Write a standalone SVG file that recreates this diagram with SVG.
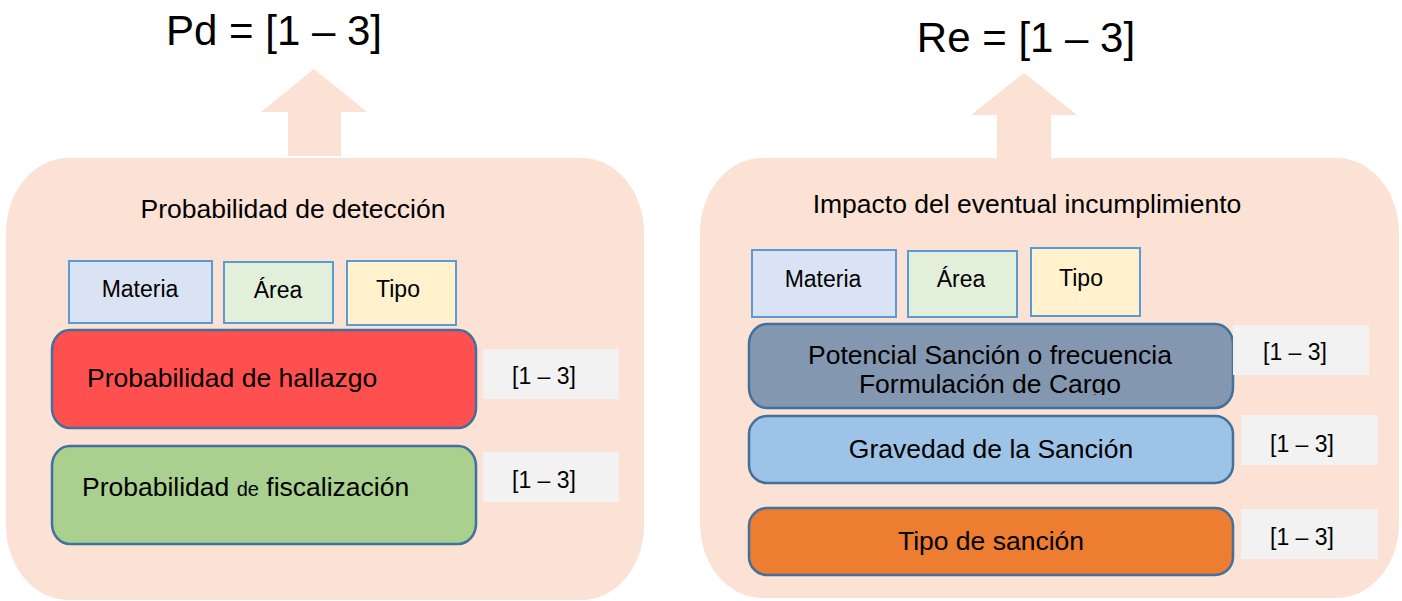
<svg xmlns="http://www.w3.org/2000/svg" width="1402" height="601" viewBox="0 0 1402 601">
<defs>
<style>
.panel{fill:#FBE2D5;}
.arrow{fill:#FBE2D5;}
.title{font-family:"Liberation Sans",Arial,sans-serif;font-size:42px;fill:#000;text-anchor:middle;}
.head{font-family:"Liberation Sans",Arial,sans-serif;font-size:26.5px;fill:#000;text-anchor:middle;}
.lbl{font-family:"Liberation Sans",Arial,sans-serif;font-size:26.5px;fill:#000;}
.small{font-family:"Liberation Sans",Arial,sans-serif;font-size:23px;fill:#000;text-anchor:middle;}
.tag{fill:#F2F2F2;}
.tagt{font-family:"Liberation Sans",Arial,sans-serif;font-size:23px;fill:#000;text-anchor:middle;}
.sbox{stroke:#5B9BD5;stroke-width:2;}
.bbox{stroke:#41719C;stroke-width:2.5;}
</style>
<clipPath id="clipPot"><rect x="740" y="320" width="500" height="75"/></clipPath>
</defs>

<g id="connectors">
<polygon class="arrow" points="314,69 367,112 341,112 341,156 288,156 288,112 261,112"/>
<polygon class="arrow" points="1024,73 1077,115 1051,115 1051,159 997,159 997,115 971,115"/>
</g>

<g id="title-pd"><text class="title" x="274" y="45">Pd = [1 – 3]</text></g>
<g id="title-re"><text class="title" x="1026" y="52">Re = [1 – 3]</text></g>

<g id="panel-left">
<rect class="panel" x="6" y="158" width="638" height="442" rx="62" ry="75"/>
<text class="head" x="293" y="218">Probabilidad de detección</text>
</g>

<g id="panel-right">
<rect class="panel" x="700" y="158" width="699" height="440" rx="62" ry="75"/>
<text class="head" x="1027" y="213">Impacto del eventual incumplimiento</text>
</g>

<g id="l-materia">
<rect class="sbox" x="69" y="261" width="143" height="62" fill="#DAE3F3"/>
<text class="small" x="140" y="297">Materia</text>
</g>
<g id="l-area">
<rect class="sbox" x="224" y="262" width="109" height="61" fill="#E2EFDA"/>
<text class="small" x="278" y="298">Área</text>
</g>
<g id="l-tipo">
<rect class="sbox" x="347" y="261" width="109" height="64" fill="#FFF2CC"/>
<text class="small" x="398" y="297">Tipo</text>
</g>

<g id="l-hallazgo">
<rect class="bbox" x="52" y="330" width="424" height="98" rx="18" ry="20" fill="#FF5050"/>
<text class="lbl" x="87" y="387">Probabilidad de hallazgo</text>
</g>
<g id="l-hallazgo-val">
<rect class="tag" x="483" y="349" width="136" height="50"/>
<text class="tagt" x="544" y="384">[1 – 3]</text>
</g>

<g id="l-fiscalizacion">
<rect class="bbox" x="52" y="446" width="424" height="98" rx="18" ry="20" fill="#A9D08E"/>
<text class="lbl" x="82" y="496">Probabilidad <tspan font-size="20px">de</tspan> fiscalización</text>
</g>
<g id="l-fiscalizacion-val">
<rect class="tag" x="483" y="452" width="136" height="50"/>
<text class="tagt" x="544" y="488">[1 – 3]</text>
</g>

<g id="r-materia">
<rect class="sbox" x="752" y="250" width="144" height="67" fill="#DAE3F3"/>
<text class="small" x="823" y="287">Materia</text>
</g>
<g id="r-area">
<rect class="sbox" x="908" y="251" width="109" height="66" fill="#E2EFDA"/>
<text class="small" x="961" y="287">Área</text>
</g>
<g id="r-tipo">
<rect class="sbox" x="1031" y="248" width="109" height="68" fill="#FFF2CC"/>
<text class="small" x="1081" y="286">Tipo</text>
</g>

<g id="r-potencial">
<rect class="bbox" x="749" y="324" width="484" height="84" rx="18" ry="20" fill="#8497B0"/>
<g clip-path="url(#clipPot)">
<text class="head" x="990" y="364">Potencial Sanción o frecuencia</text>
<text class="head" x="990" y="393">Formulación de Cargo</text>
</g>
</g>
<g id="r-potencial-val">
<rect class="tag" x="1233" y="325" width="136" height="50"/>
<text class="tagt" x="1295" y="360">[1 – 3]</text>
</g>

<g id="r-gravedad">
<rect class="bbox" x="749" y="416" width="484" height="67" rx="18" ry="18" fill="#9DC3E6"/>
<text class="head" x="991" y="458">Gravedad de la Sanción</text>
</g>
<g id="r-gravedad-val">
<rect class="tag" x="1241" y="415" width="137" height="50"/>
<text class="tagt" x="1302" y="452">[1 – 3]</text>
</g>

<g id="r-tipo-sancion">
<rect class="bbox" x="749" y="508" width="484" height="67" rx="18" ry="18" fill="#ED7D31"/>
<text class="head" x="991" y="550">Tipo de sanción</text>
</g>
<g id="r-tipo-sancion-val">
<rect class="tag" x="1241" y="509" width="137" height="50"/>
<text class="tagt" x="1302" y="545">[1 – 3]</text>
</g>
</svg>
